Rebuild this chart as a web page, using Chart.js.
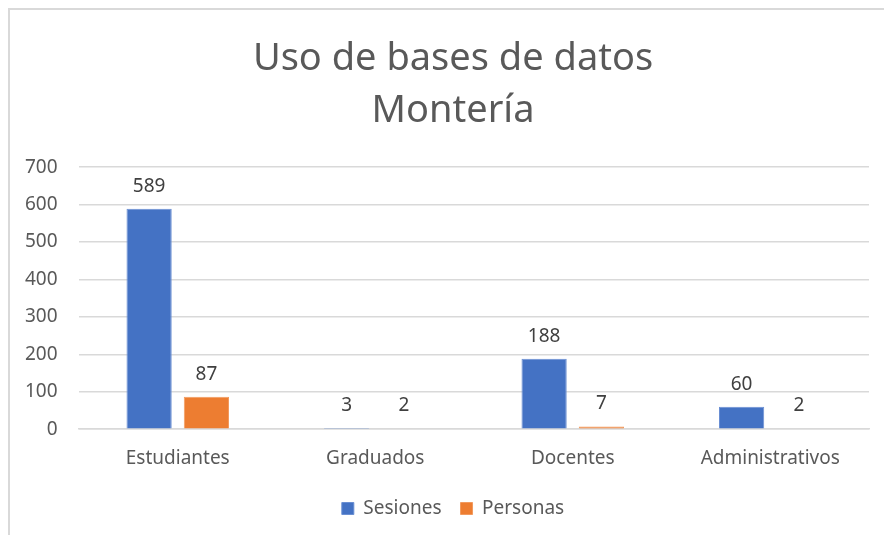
<!DOCTYPE html>
<html>
<head>
<meta charset="utf-8">
<script src="https://cdn.jsdelivr.net/npm/chart.js@4"></script>
<style>
  html, body { margin: 0; padding: 0; background: #fff; overflow: hidden; }
  #frame {
    position: absolute; left: 8px; top: 8px;
    width: 886px; height: 540px;
    border: 2px solid #d9d9d9; background: #fff;
  }
  #chart { display: block; }
</style>
</head>
<body>
<div id="frame"><canvas id="chart" width="886" height="525"></canvas></div>
<script>
const categories = ['Estudiantes', 'Graduados', 'Docentes', 'Administrativos'];
const sesiones = [589, 3, 188, 60];
const personas = [87, 2, 7, 2];
const yTicks = [0, 100, 200, 300, 400, 500, 600, 700];

const FONT = '"Noto Sans", "Open Sans", sans-serif';
const GREY = '#595959';

// etiquetas de valor encima de cada barra
const valueLabels = {
  id: 'valueLabels',
  afterDatasetsDraw(chart) {
    const ctx = chart.ctx;
    ctx.save();
    ctx.font = '19px ' + FONT;
    ctx.fillStyle = '#404040';
    ctx.textAlign = 'center';
    ctx.textBaseline = 'bottom';
    chart.data.datasets.forEach((ds, i) => {
      chart.getDatasetMeta(i).data.forEach((bar, j) => {
        ctx.fillText(ds.data[j], bar.x, bar.y - 13);
      });
    });
    ctx.restore();
  }
};

new Chart(document.getElementById('chart'), {
  type: 'bar',
  data: {
    labels: categories,
    datasets: [
      {
        label: 'Sesiones',
        data: sesiones,
        backgroundColor: '#4472C4',
        borderColor: '#6a8fd3',
        borderWidth: 1,
        barPercentage: 0.79,
        categoryPercentage: 0.58
      },
      {
        label: 'Personas',
        data: personas,
        backgroundColor: '#ED7D31',
        borderColor: '#f29a5e',
        borderWidth: 1,
        barPercentage: 0.79,
        categoryPercentage: 0.58
      }
    ]
  },
  options: {
    responsive: false,
    animation: false,
    layout: { padding: { left: 27, right: 27, top: 0, bottom: 7 } },
    plugins: {
      title: {
        display: true,
        text: ['Uso de bases de datos', 'Montería'],
        color: GREY,
        font: { family: FONT, size: 38, weight: 'normal', lineHeight: 1.37 },
        padding: { top: 23, bottom: 30 }
      },
      legend: {
        position: 'bottom',
        labels: {
          color: GREY,
          font: { family: FONT, size: 19 },
          boxWidth: 12,
          boxHeight: 12,
          padding: 19
        }
      },
      tooltip: { enabled: false }
    },
    scales: {
      x: {
        grid: { display: false },
        border: { color: '#d9d9d9', width: 1.5 },
        ticks: { color: GREY, font: { family: FONT, size: 19 }, padding: 10 }
      },
      y: {
        min: 0,
        max: 700,
        afterBuildTicks(axis) { axis.ticks = yTicks.map(v => ({ value: v })); },
        afterFit(axis) { axis.width = 42; },
        border: { display: false },
        grid: { color: '#d9d9d9', lineWidth: 1.5, drawTicks: false },
        ticks: {
          color: GREY,
          font: { family: FONT, size: 19 },
          mirror: true,
          crossAlign: 'far',
          padding: -54
        }
      }
    }
  },
  plugins: [valueLabels]
});
</script>
</body>
</html>
